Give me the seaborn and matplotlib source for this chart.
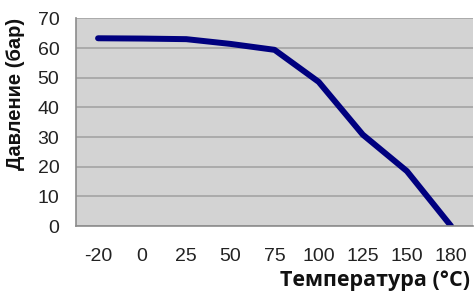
import matplotlib
matplotlib.use('Agg')
import matplotlib.pyplot as plt
import pandas as pd
import seaborn as sns
from matplotlib.ticker import FixedLocator, MultipleLocator

# values
temps = ["-20", "0", "25", "50", "75", "100", "125", "150", "180"]
pressure = [63.3, 63.2, 63.0, 61.4, 59.4, 48.6, 30.8, 18.5, 0.0]

df = pd.DataFrame({"temp": temps, "pressure": pressure})

sns.set_theme(style="white")
plt.rcParams['font.family'] = ['Liberation Sans', 'DejaVu Sans']

fig = plt.figure(figsize=(4.75, 2.92), dpi=100)
ax = fig.add_axes([0.16, 0.226, 0.836, 0.711])
ax.set_facecolor("#d3d3d3")

sns.lineplot(data=df, x="temp", y="pressure", sort=False, color="#00007f",
             linewidth=4.3, ax=ax, solid_capstyle="round", solid_joinstyle="round")

ax.set_xlim(-0.5, len(temps) - 0.5)
ax.set_ylim(0, 70)
ax.yaxis.set_major_locator(MultipleLocator(10))
ax.grid(axis="y", color="#a4a4a4", linewidth=1.2)
ax.set_axisbelow(True)

# category ticks sit between categories, labels in the middle
ax.set_xticks(range(len(temps)))
ax.set_xticklabels(temps)
ax.xaxis.set_minor_locator(FixedLocator([i - 0.5 for i in range(len(temps) + 1)]))
ax.tick_params(axis="x", which="major", length=0, pad=16, labelsize=14, colors="#222222")
ax.tick_params(axis="x", which="minor", length=4, width=1, color="#909090", direction="out")
ax.tick_params(axis="y", length=4, width=1, color="#909090", direction="out", pad=8,
               labelsize=14, labelcolor="#222222")

for side in ["top", "right"]:
    ax.spines[side].set_visible(False)
for side in ["left", "bottom"]:
    ax.spines[side].set_color("#8c8c8c")
    ax.spines[side].set_linewidth(1.2)

ax.set_xlabel("")
ax.set_ylabel("")
fig.text(0.032, 0.68, "Давление (бар)", rotation=90, ha="center", va="center",
         fontsize=14.5, fontweight="bold", color="#111111")
fig.text(0.99, 0.005, "Температура (°C)", ha="right", va="bottom",
         fontsize=15.5, fontweight="bold", color="#111111", family=["Open Sans", "DejaVu Sans"])

fig.savefig("out.png", dpi=100)
